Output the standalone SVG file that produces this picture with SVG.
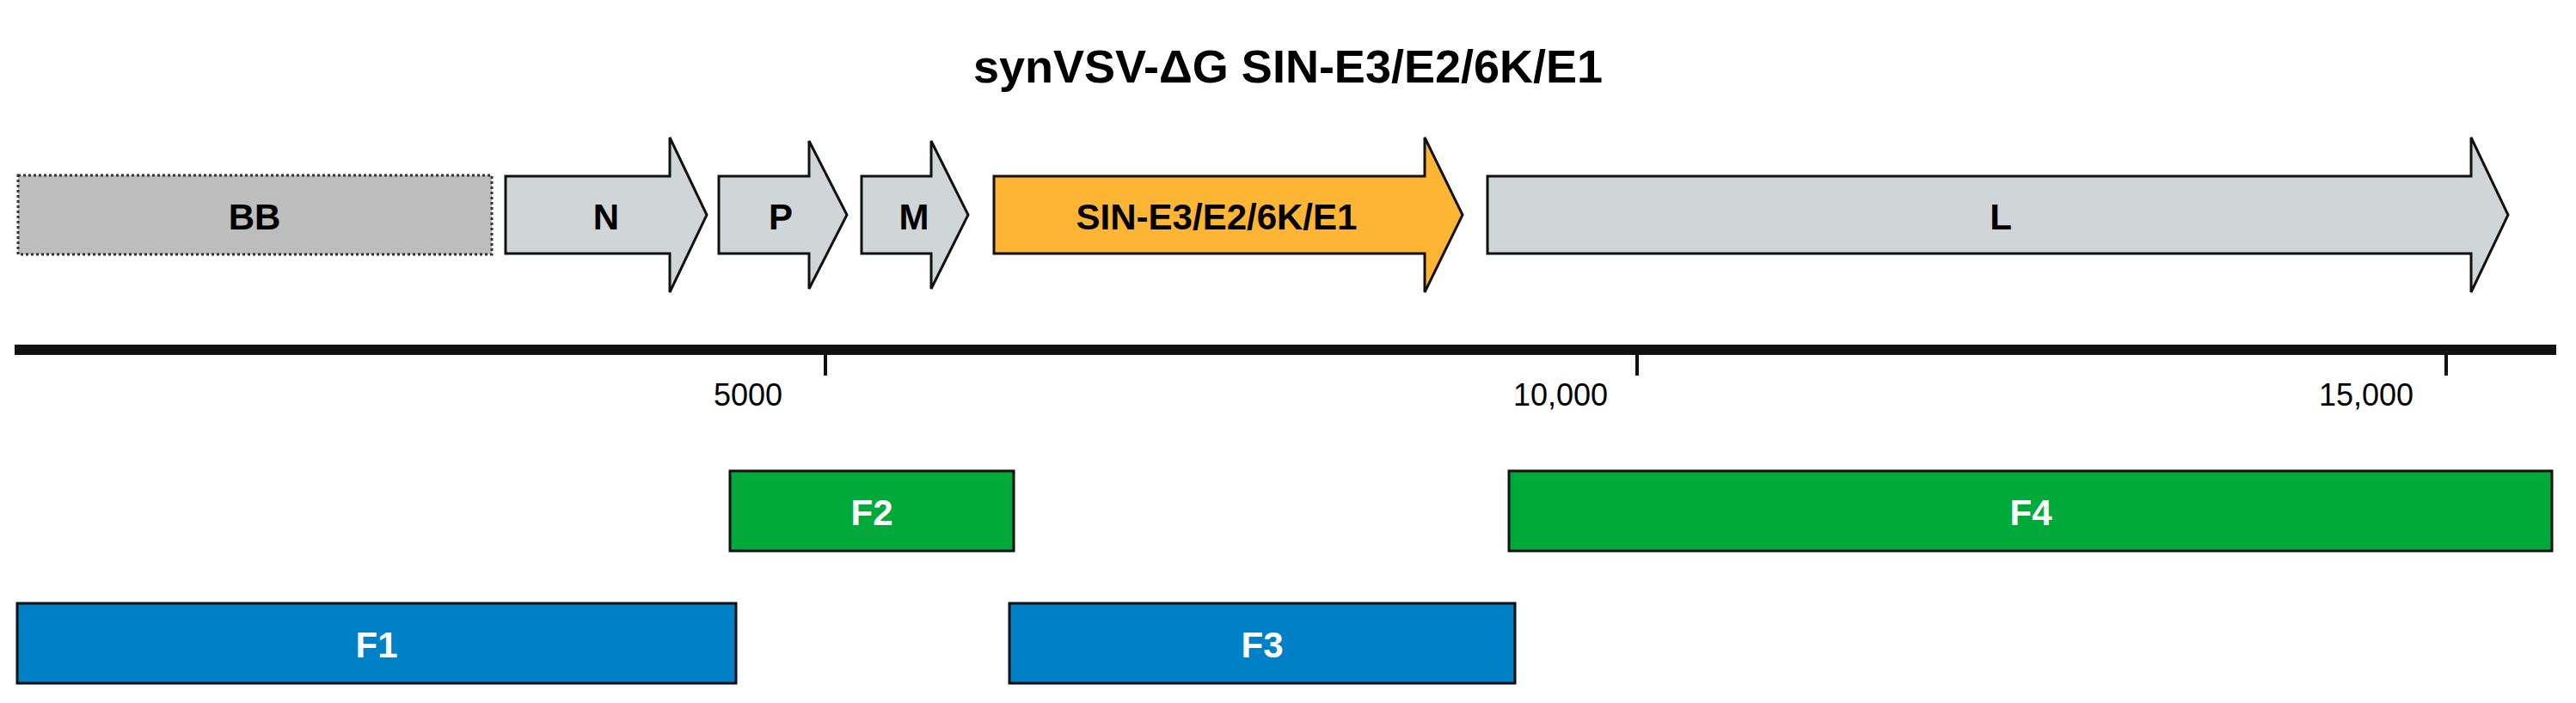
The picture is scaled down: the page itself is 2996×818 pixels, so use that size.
<svg xmlns="http://www.w3.org/2000/svg" width="2996" height="818" viewBox="0 0 2996 818">
<style>
.lb{font-family:"Liberation Sans",Arial,sans-serif;font-weight:bold;font-size:42px;text-anchor:middle;dominant-baseline:central}
.w{fill:#fff}
.ax{font-family:"Liberation Sans",Arial,sans-serif;font-size:36px;text-anchor:end}
.g{fill:#d0d5d8;stroke:#111;stroke-width:3}
.f{stroke:#111;stroke-width:3}
</style>
<rect width="2996" height="818" fill="#fff"/>
<text x="1498" y="77" font-family="Liberation Sans,Arial,sans-serif" font-weight="bold" font-size="54" text-anchor="middle" dominant-baseline="central">synVSV-ΔG SIN-E3/E2/6K/E1</text>
<g id="BB"><rect x="21" y="204" width="551" height="92" fill="#bdbdbd" stroke="#333" stroke-width="3" stroke-dasharray="3,3"/><text class="lb" x="296" y="252">BB</text></g>
<g id="N"><polygon class="g" points="588,205 779,205 779,160 822,250 779,340 779,295 588,295"/><text class="lb" x="705" y="252">N</text></g>
<g id="P"><polygon class="g" points="836,205 941,205 941,164 985,250 941,336 941,295 836,295"/><text class="lb" x="908" y="252">P</text></g>
<g id="M"><polygon class="g" points="1002,205 1083,205 1083,164 1126,250 1083,336 1083,295 1002,295"/><text class="lb" x="1063" y="252">M</text></g>
<g id="SIN"><polygon points="1156,205 1657,205 1657,160 1701,250 1657,340 1657,295 1156,295" fill="#ffb534" stroke="#111" stroke-width="3"/><text class="lb" x="1415" y="252">SIN-E3/E2/6K/E1</text></g>
<g id="L"><polygon class="g" points="1730,205 2874,205 2874,160 2917,250 2874,340 2874,295 1730,295"/><text class="lb" x="2327" y="252">L</text></g>
<g id="axis">
<line x1="17" y1="407" x2="2973" y2="407" stroke="#111" stroke-width="12"/>
<line x1="960" y1="407" x2="960" y2="437" stroke="#111" stroke-width="4"/>
<line x1="1904" y1="407" x2="1904" y2="437" stroke="#111" stroke-width="4"/>
<line x1="2845" y1="407" x2="2845" y2="437" stroke="#111" stroke-width="4"/>
<text class="ax" x="910" y="472">5000</text>
<text class="ax" x="1870" y="472">10,000</text>
<text class="ax" x="2807" y="472">15,000</text>
</g>
<g id="F2"><rect class="f" x="849" y="548" width="330" height="93" fill="#00aa3a"/><text class="lb w" x="1014" y="596">F2</text></g>
<g id="F4"><rect class="f" x="1755" y="548" width="1213" height="93" fill="#00aa3a"/><text class="lb w" x="2362" y="596">F4</text></g>
<g id="F1"><rect class="f" x="20" y="702" width="836" height="93" fill="#0080c6"/><text class="lb w" x="438" y="750">F1</text></g>
<g id="F3"><rect class="f" x="1174" y="702" width="588" height="93" fill="#0080c6"/><text class="lb w" x="1468" y="750">F3</text></g>
</svg>
